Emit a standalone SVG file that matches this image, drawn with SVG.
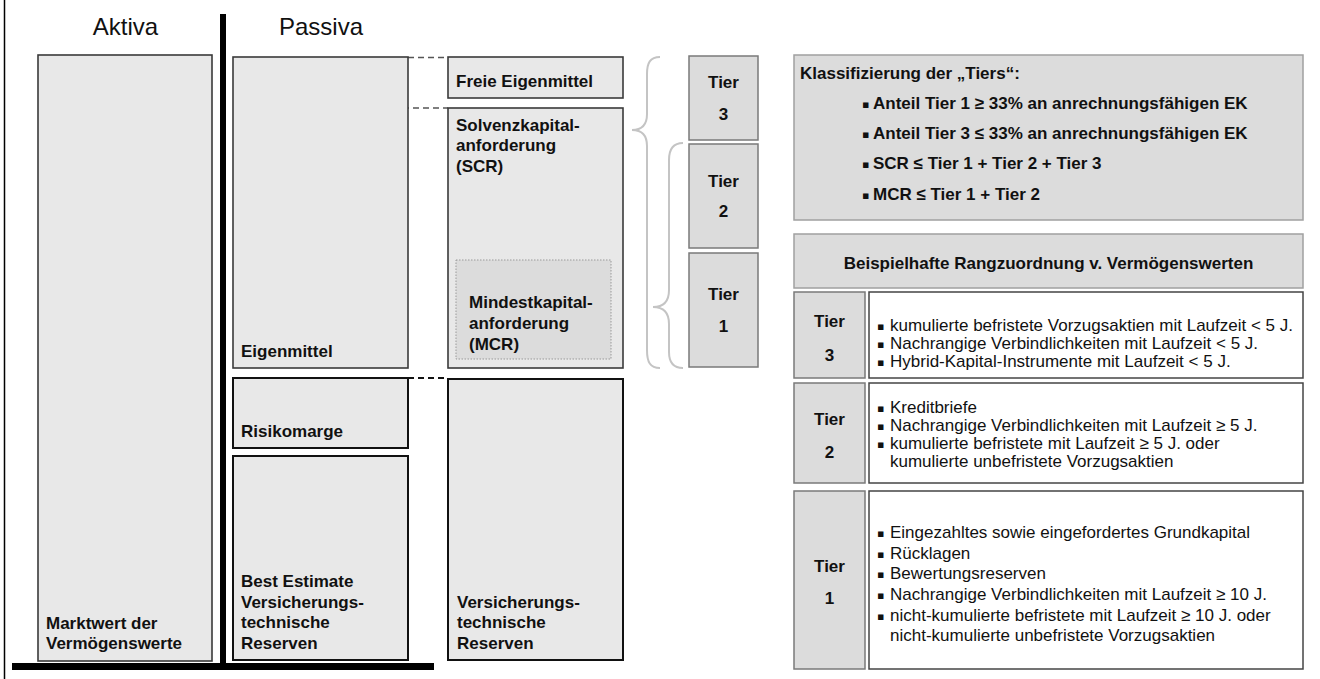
<svg xmlns="http://www.w3.org/2000/svg" width="1320" height="679" viewBox="0 0 1320 679">
<style>
.bg{fill:#fff}
.box{fill:#e8e8e8;stroke:#3a3a3a;stroke-width:1.6}
.boxk{fill:#e8e8e8;stroke:#111;stroke-width:2}
.tier{fill:#dcdcdc;stroke:#7a7a7a;stroke-width:1.5}
.gbox{fill:#dcdcdc;stroke:#a0a0a0;stroke-width:1.5}
.cell{fill:#fff;stroke:#444;stroke-width:1.5}
.mcr{fill:#dcdcdc;stroke:#9a9a9a;stroke-width:1;stroke-dasharray:1.5 1.5}
.b{font-family:"Liberation Sans",Arial,sans-serif;font-size:17px;font-weight:bold;fill:#111}
.r{font-family:"Liberation Sans",Arial,sans-serif;font-size:17px;fill:#111}
.h{font-family:"Liberation Sans",Arial,sans-serif;font-size:24px;fill:#111}
.c{text-anchor:middle}
.bul{font-family:"DejaVu Sans",sans-serif;font-size:11px;fill:#111}
.dash{stroke:#555;stroke-width:1.5;stroke-dasharray:6 4;fill:none}
.dashk{stroke:#111;stroke-width:2.2;stroke-dasharray:6 4;fill:none}
.brace{stroke:#c4c4c4;stroke-width:2;fill:none}
.thick{stroke:#000;fill:none}
</style>
<rect class="bg" x="0" y="0" width="1320" height="679"/>

<g id="frame">
<line class="thick" x1="4.5" y1="0" x2="4.5" y2="679" stroke-width="1.5"/>
<line class="thick" x1="223" y1="14" x2="223" y2="670" stroke-width="6"/>
<line class="thick" x1="12" y1="666.5" x2="434" y2="666.5" stroke-width="7"/>
<text class="h c" x="125.5" y="35">Aktiva</text>
<text class="h" x="279" y="35">Passiva</text>
</g>

<g id="connectors">
<line class="dash" x1="408" y1="57.5" x2="448" y2="57.5"/>
<line class="dash" x1="233" y1="108" x2="448" y2="108"/>
<line class="dashk" x1="408" y1="378" x2="448" y2="378"/>
<path class="brace" d="M660,57 C650,57 647,63 647,74 L647,114 C647,125 642,130 632,130 C642,130 647,135 647,146 L647,350 C647,362 650,368 660,368"/>
<path class="brace" d="M683,143 C673,143 669,149 669,160 L669,290 C669,302 663,307 653,307 C663,307 669,312 669,324 L669,352 C669,363 674,368 683,368"/>
</g>

<g id="aktiva">
<rect class="box" x="38" y="55" width="174" height="606"/>
<text class="b" x="46" y="629">Marktwert der</text>
<text class="b" x="46" y="649">Vermögenswerte</text>
</g>

<g id="eigenmittel">
<rect class="box" x="233" y="57" width="175" height="311"/>
<text class="b" x="241" y="357">Eigenmittel</text>
</g>

<g id="risikomarge">
<rect class="boxk" x="233" y="378" width="175" height="70"/>
<text class="b" x="241" y="437">Risikomarge</text>
</g>

<g id="best-estimate">
<rect class="boxk" x="233" y="456" width="175" height="204"/>
<text class="b" x="241" y="587">Best Estimate</text>
<text class="b" x="241" y="608">Versicherungs-</text>
<text class="b" x="241" y="628">technische</text>
<text class="b" x="241" y="649">Reserven</text>
</g>

<g id="freie-eigenmittel">
<rect class="box" x="448" y="57" width="175" height="41"/>
<text class="b" x="456" y="87">Freie Eigenmittel</text>
</g>

<g id="scr">
<rect class="box" x="448" y="108" width="175" height="260"/>
<text class="b" x="456" y="131">Solvenzkapital-</text>
<text class="b" x="456" y="151">anforderung</text>
<text class="b" x="456" y="172">(SCR)</text>
</g>

<g id="mcr">
<rect class="mcr" x="456" y="260" width="155" height="99"/>
<text class="b" x="469" y="308">Mindestkapital-</text>
<text class="b" x="469" y="329">anforderung</text>
<text class="b" x="469" y="350">(MCR)</text>
</g>

<g id="vt-reserven">
<rect class="boxk" x="448" y="379" width="175" height="281"/>
<text class="b" x="457" y="608">Versicherungs-</text>
<text class="b" x="457" y="628">technische</text>
<text class="b" x="457" y="649">Reserven</text>
</g>

<g id="tier3">
<rect class="tier" x="689" y="56" width="69" height="84"/>
<text class="b c" x="723.5" y="88">Tier</text>
<text class="b c" x="723.5" y="120">3</text>
</g>
<g id="tier2">
<rect class="tier" x="689" y="144" width="69" height="104"/>
<text class="b c" x="723.5" y="187">Tier</text>
<text class="b c" x="723.5" y="217">2</text>
</g>
<g id="tier1">
<rect class="tier" x="689" y="253" width="69" height="114"/>
<text class="b c" x="723.5" y="300">Tier</text>
<text class="b c" x="723.5" y="332">1</text>
</g>

<g id="klassifizierung">
<rect class="gbox" x="794" y="55" width="509" height="165"/>
<text class="b" x="800" y="79">Klassifizierung der „Tiers“:</text>
<text class="bul" x="862" y="108">▪</text>
<text class="b" x="873" y="109">Anteil Tier 1 ≥ 33% an anrechnungsfähigen EK</text>
<text class="bul" x="862" y="138">▪</text>
<text class="b" x="873" y="139">Anteil Tier 3 ≤ 33% an anrechnungsfähigen EK</text>
<text class="bul" x="862" y="168">▪</text>
<text class="b" x="873" y="169">SCR ≤ Tier 1 + Tier 2 + Tier 3</text>
<text class="bul" x="862" y="199">▪</text>
<text class="b" x="873" y="200">MCR ≤ Tier 1 + Tier 2</text>
</g>

<g id="beispiel-header">
<rect class="gbox" x="794" y="234" width="509" height="54"/>
<text class="b c" x="1048.5" y="269">Beispielhafte Rangzuordnung v. Vermögenswerten</text>
</g>

<g id="row-tier3">
<rect class="tier" x="794" y="292" width="71" height="86"/>
<text class="b c" x="829.5" y="327">Tier</text>
<text class="b c" x="829.5" y="361">3</text>
<rect class="cell" x="869" y="292" width="434" height="86"/>
<text class="bul" x="877" y="330">▪</text>
<text class="r" x="890" y="331">kumulierte befristete Vorzugsaktien mit Laufzeit &lt; 5 J.</text>
<text class="bul" x="877" y="348">▪</text>
<text class="r" x="890" y="349">Nachrangige Verbindlichkeiten mit Laufzeit &lt; 5 J.</text>
<text class="bul" x="877" y="366">▪</text>
<text class="r" x="890" y="367">Hybrid-Kapital-Instrumente mit Laufzeit &lt; 5 J.</text>
</g>

<g id="row-tier2">
<rect class="tier" x="794" y="383" width="71" height="100"/>
<text class="b c" x="829.5" y="425">Tier</text>
<text class="b c" x="829.5" y="458">2</text>
<rect class="cell" x="869" y="383" width="434" height="100"/>
<text class="bul" x="877" y="412">▪</text>
<text class="r" x="890" y="413">Kreditbriefe</text>
<text class="bul" x="877" y="430">▪</text>
<text class="r" x="890" y="431">Nachrangige Verbindlichkeiten mit Laufzeit ≥ 5 J.</text>
<text class="bul" x="877" y="448">▪</text>
<text class="r" x="890" y="449">kumulierte befristete mit Laufzeit ≥ 5 J. oder</text>
<text class="r" x="890" y="467">kumulierte unbefristete Vorzugsaktien</text>
</g>

<g id="row-tier1">
<rect class="tier" x="794" y="491" width="71" height="178"/>
<text class="b c" x="829.5" y="572">Tier</text>
<text class="b c" x="829.5" y="604">1</text>
<rect class="cell" x="869" y="491" width="434" height="178"/>
<text class="bul" x="877" y="537">▪</text>
<text class="r" x="890" y="538">Eingezahltes sowie eingefordertes Grundkapital</text>
<text class="bul" x="877" y="558">▪</text>
<text class="r" x="890" y="559">Rücklagen</text>
<text class="bul" x="877" y="578">▪</text>
<text class="r" x="890" y="579">Bewertungsreserven</text>
<text class="bul" x="877" y="599">▪</text>
<text class="r" x="890" y="600">Nachrangige Verbindlichkeiten mit Laufzeit ≥ 10 J.</text>
<text class="bul" x="877" y="620">▪</text>
<text class="r" x="890" y="621">nicht-kumulierte befristete mit Laufzeit ≥ 10 J. oder</text>
<text class="r" x="890" y="641">nicht-kumulierte unbefristete Vorzugsaktien</text>
</g>
</svg>
